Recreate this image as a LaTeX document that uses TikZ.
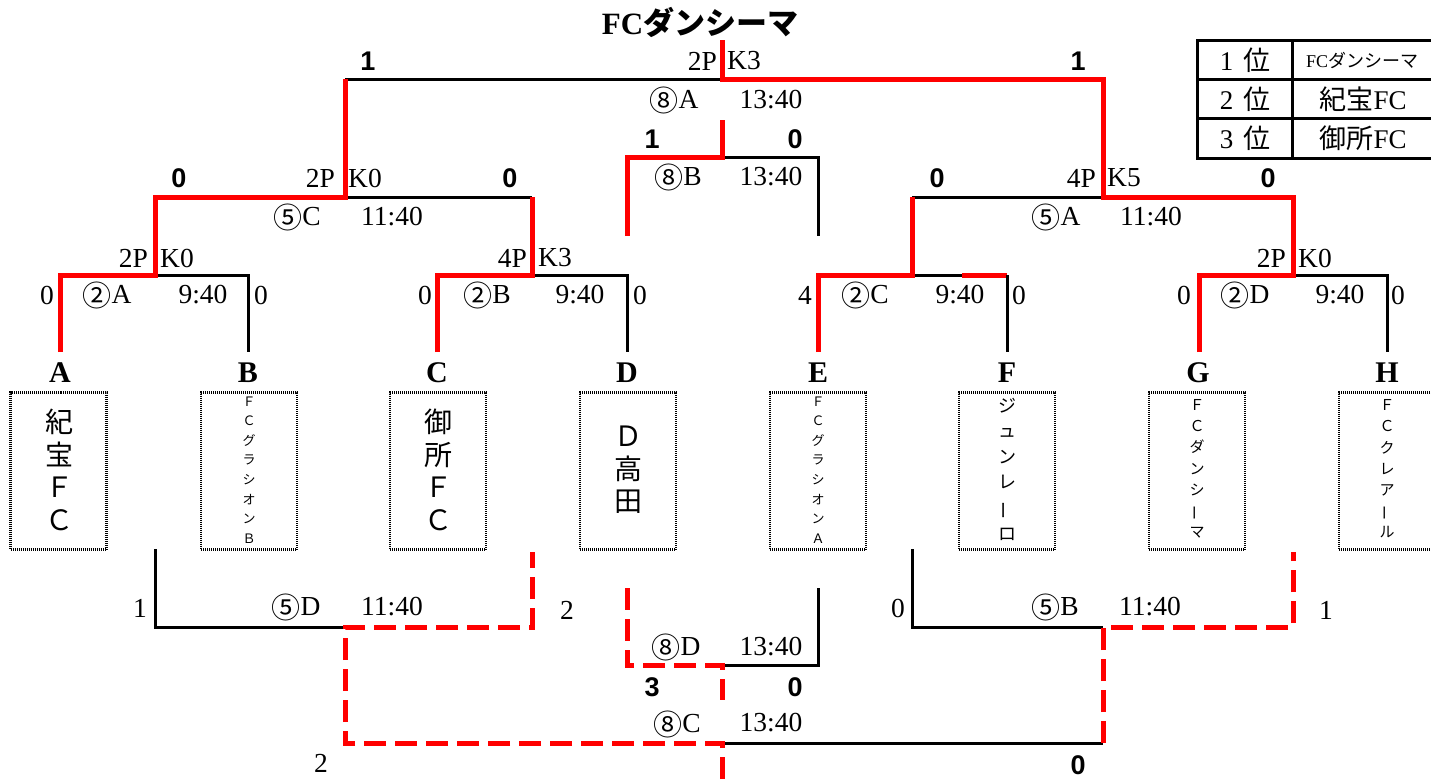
\documentclass[tikz,border=0pt]{standalone}
\usepackage{fontspec}
\usepackage{graphicx}
\setmainfont{Liberation Serif}
\newfontfamily\jp{Noto Sans CJK JP}
\newfontfamily\numsans{Liberation Sans}
\newcommand\circnum[1]{\raisebox{-3pt}{\jp\fontsize{29}{29}\selectfont #1}}
\newcommand\tatebar{\rotatebox[origin=c]{90}{ー}}
\begin{document}
\begin{tikzpicture}[x=1pt,y=-1pt,
  win/.style={draw=red, line width=5pt},
  lose/.style={draw=black, line width=3pt},
  windash/.style={draw=red, line width=5pt, dash pattern=on 22pt off 9pt},
  lbl/.style={inner sep=0pt, font=\fontsize{27.5}{28}\selectfont},
  score/.style={inner sep=0pt, font=\numsans\bfseries\fontsize{27}{28}\selectfont},
  letter/.style={inner sep=0pt, font=\bfseries\fontsize{30}{30}\selectfont},
  teambox/.style={draw, line width=2.5pt, dash pattern=on 1pt off 1pt, minimum width=96pt, minimum height=157pt, inner sep=0pt},
  bigv/.style={inner sep=0pt, align=center, font=\jp\fontsize{28}{32.5}\selectfont},
  smallv/.style={inner sep=0pt, align=center, font=\jp\fontsize{13}{19.6}\selectfont},
  midv/.style={inner sep=0pt, align=center, font=\jp\fontsize{15}{21.2}\selectfont},
  junv/.style={inner sep=0pt, align=center, font=\jp\fontsize{18}{25.6}\selectfont},
  tbl/.style={inner sep=0pt, font=\fontsize{27}{28}\selectfont}
]
\useasboundingbox (0,0) rectangle (1431,779);

% ---------- coordinates ----------
\coordinate (pA) at (60,352);   \coordinate (qA) at (60,275);
\coordinate (pB) at (248,352);  \coordinate (qB) at (248,275);
\coordinate (pC) at (437,352);  \coordinate (qC) at (437,275);
\coordinate (pD) at (627,352);  \coordinate (qD) at (627,275);
\coordinate (pE) at (818,352);  \coordinate (qE) at (818,275);
\coordinate (pF) at (1007,352); \coordinate (qF) at (1007,275);
\coordinate (pG) at (1199,352); \coordinate (qG) at (1199,275);
\coordinate (pH) at (1387,352); \coordinate (qH) at (1387,275);
\coordinate (m1) at (155,275);  \coordinate (s1) at (155,197);
\coordinate (m2) at (532,275);  \coordinate (s2) at (532,197);
\coordinate (m3) at (912,275);  \coordinate (s3) at (912,197);
\coordinate (m4) at (1293,275); \coordinate (s4) at (1293,197);
\coordinate (fsplit) at (962,275);
\coordinate (sm1) at (345,197); \coordinate (sm2) at (1103,197);
\coordinate (f1) at (345,79);   \coordinate (f2) at (1103,79);
\coordinate (fm) at (722,79);   \coordinate (champ) at (722,40);
\coordinate (b1) at (627,236);  \coordinate (b2) at (627,157);
\coordinate (bm) at (722,157);  \coordinate (bw) at (722,120);
\coordinate (b3) at (818,157);  \coordinate (b4) at (818,236);
\coordinate (c1) at (155,549);  \coordinate (c2) at (155,627);
\coordinate (cm1) at (345,627); \coordinate (c3) at (532,627);
\coordinate (c4) at (532,552);
\coordinate (d1) at (912,549);  \coordinate (d2) at (912,627);
\coordinate (cm2) at (1103,627);\coordinate (d3) at (1293,627);
\coordinate (d4) at (1293,552);
\coordinate (e1) at (345,743);  \coordinate (e2) at (1103,743);
\coordinate (em) at (722,743);  \coordinate (ew) at (722,779);
\coordinate (g1) at (627,588);  \coordinate (g2) at (627,665);
\coordinate (gm) at (722,665);  \coordinate (gw) at (722,700);
\coordinate (g3) at (818,665);  \coordinate (g4) at (818,588);

% ---------- bracket lines ----------
\draw[lose] (m1) -- (qB) -- (pB);
\draw[lose] (m2) -- (qD) -- (pD);
\draw[lose] (m3) -- (fsplit);
\draw[win]  (fsplit) -- (qF);
\draw[lose] (qF) -- (pF);
\draw[lose] (m4) -- (qH) -- (pH);
\draw[lose] (sm1) -- (s2);
\draw[lose] (s3) -- (sm2);
\draw[lose] (f1) -- (fm);
\draw[win] (pA) -- (qA) -- (m1) -- (s1) -- (sm1) -- (f1);
\draw[win] (pC) -- (qC) -- (m2) -- (s2);
\draw[win] (pE) -- (qE) -- (m3) -- (s3);
\draw[win] (pG) -- (qG) -- (m4) -- (s4) -- (sm2) -- (f2) -- (fm) -- (champ);
% 3rd place
\draw[lose] (bm) -- (b3) -- (b4);
\draw[win] (b1) -- (b2) -- (bm) -- (bw);
% lower bracket
\draw[lose] (c1) -- (c2) -- (cm1);
\draw[lose] (d1) -- (d2) -- (cm2);
\draw[lose] (em) -- (e2);
\draw[windash] (ew) -- (em) -- (e1) -- (cm1) -- (c3) -- (c4);
\draw[windash] (e2) -- (cm2) -- (d3) -- (d4);
\draw[lose] (gm) -- (g3) -- (g4);
\draw[windash] (g1) -- (g2) -- (gm) -- (gw);

% ---------- title ----------
\node[inner sep=0pt, font=\bfseries\fontsize{31}{31}\selectfont] (title) at (700,22) {FC{\jp ダンシーマ}};

% ---------- final labels ----------
\node[score] (fs1) at (368,61) {1};
\node[score] (fs2) at (1078,61) {1};
\node[lbl, anchor=east] (fp) at (717,61) {2P};
\node[lbl, anchor=west] (fk) at (727,61) {K3};
\node[lbl] (fname) at (674,100) {\circnum{⑧}A};
\node[lbl] (ftime) at (771,100) {13:40};
% 8B
\node[score] (bs1) at (652,139) {1};
\node[score] (bs2) at (795,139) {0};
\node[lbl] (bname) at (678,177) {\circnum{⑧}B};
\node[lbl] (btime) at (771,177) {13:40};
% 5C
\node[score] (cs1) at (179,178) {0};
\node[score] (cs2) at (510,178) {0};
\node[lbl, anchor=east] (cp) at (335,178) {2P};
\node[lbl, anchor=west] (ck) at (348,178) {K0};
\node[lbl] (cname) at (297,217) {\circnum{⑤}C};
\node[lbl] (ctime) at (392,217) {11:40};
% 5A
\node[score] (as1) at (937,178) {0};
\node[score] (as2) at (1268,178) {0};
\node[lbl, anchor=east] (ap) at (1096,178) {4P};
\node[lbl, anchor=west] (ak) at (1107,178) {K5};
\node[lbl] (aname) at (1056,217) {\circnum{⑤}A};
\node[lbl] (atime) at (1151,217) {11:40};
% 2A
\node[lbl, anchor=east] (r1p) at (148,258) {2P};
\node[lbl, anchor=west] (r1k) at (160,258) {K0};
\node[lbl] (r1s1) at (47,295) {0};
\node[lbl] (r1n) at (107,295) {\circnum{②}A};
\node[lbl] (r1t) at (203,295) {9:40};
\node[lbl] (r1s2) at (261,295) {0};
% 2B
\node[lbl, anchor=east] (r2p) at (527,258) {4P};
\node[lbl, anchor=west] (r2k) at (538,258) {K3};
\node[lbl] (r2s1) at (425,295) {0};
\node[lbl] (r2n) at (487,295) {\circnum{②}B};
\node[lbl] (r2t) at (580,295) {9:40};
\node[lbl] (r2s2) at (640,295) {0};
% 2C
\node[lbl] (r3s1) at (805,295) {4};
\node[lbl] (r3n) at (865,295) {\circnum{②}C};
\node[lbl] (r3t) at (960,295) {9:40};
\node[lbl] (r3s2) at (1019,295) {0};
% 2D
\node[lbl, anchor=east] (r4p) at (1286,258) {2P};
\node[lbl, anchor=west] (r4k) at (1298,258) {K0};
\node[lbl] (r4s1) at (1184,295) {0};
\node[lbl] (r4n) at (1245,295) {\circnum{②}D};
\node[lbl] (r4t) at (1340,295) {9:40};
\node[lbl] (r4s2) at (1398,295) {0};
% 5D, 5B
\node[lbl] (dls1) at (140,608) {1};
\node[lbl] (dln) at (296,607) {\circnum{⑤}D};
\node[lbl] (dlt) at (392,607) {11:40};
\node[lbl] (dls2) at (567,610) {2};
\node[lbl] (brs1) at (898,608) {0};
\node[lbl] (brn) at (1055,607) {\circnum{⑤}B};
\node[lbl] (brt) at (1150,607) {11:40};
\node[lbl] (brs2) at (1326,610) {1};
% 8D
\node[lbl] (gn) at (676,647) {\circnum{⑧}D};
\node[lbl] (gt) at (771,647) {13:40};
\node[score] (gs1) at (652,687) {3};
\node[score] (gs2) at (795,687) {0};
% 8C
\node[lbl] (en) at (677,724) {\circnum{⑧}C};
\node[lbl] (et) at (771,723) {13:40};
\node[lbl] (es1) at (321,763) {2};
\node[score] (es2) at (1078,765) {0};

% ---------- team letters ----------
\node[letter] (LA) at (60,373) {A};
\node[letter] (LB) at (248,373) {B};
\node[letter] (LC) at (437,373) {C};
\node[letter] (LD) at (627,373) {D};
\node[letter] (LE) at (818,373) {E};
\node[letter] (LF) at (1007,373) {F};
\node[letter] (LG) at (1198,373) {G};
\node[letter] (LH) at (1387,373) {H};

% ---------- team boxes ----------
\node[teambox] (BA) at (58.5,471) {};
\node[teambox] (BB) at (249,471) {};
\node[teambox] (BC) at (438,471) {};
\node[teambox] (BD) at (628,471) {};
\node[teambox] (BE) at (818,471) {};
\node[teambox] (BF) at (1007,471) {};
\node[teambox] (BG) at (1197,471) {};
\node[teambox] (BH) at (1387,471) {};

\node[bigv] (TA) at (59,470) {紀\\宝\\Ｆ\\Ｃ};
\node[smallv] (TB) at (249,470) {Ｆ\\Ｃ\\グ\\ラ\\シ\\オ\\ン\\Ｂ};
\node[bigv] (TC) at (438,470) {御\\所\\Ｆ\\Ｃ};
\node[bigv] (TD) at (628,470) {Ｄ\\高\\田};
\node[smallv] (TE) at (818,470) {Ｆ\\Ｃ\\グ\\ラ\\シ\\オ\\ン\\Ａ};
\node[junv] (TF) at (1007,469) {ジ\\ュ\\ン\\レ\\\tatebar\\ロ};
\node[midv] (TG) at (1197,469) {Ｆ\\Ｃ\\ダ\\ン\\シ\\\tatebar\\マ};
\node[midv] (TH) at (1387,469) {Ｆ\\Ｃ\\ク\\レ\\ア\\\tatebar\\ル};

% ---------- ranking table ----------
\draw[line width=3pt] (1197,40) rectangle (1434,158);
\draw[line width=3pt] (1292,40) -- (1292,158);
\draw[line width=3pt] (1197,79) -- (1434,79);
\draw[line width=3pt] (1197,118) -- (1434,118);
\node[tbl] (k1) at (1245,60) {1\hspace{10pt}{\jp 位}};
\node[tbl] (k2) at (1245,99) {2\hspace{10pt}{\jp 位}};
\node[tbl] (k3) at (1245,138) {3\hspace{10pt}{\jp 位}};
\node[inner sep=0pt, font=\fontsize{18}{18}\selectfont] (v1) at (1362,60) {FC{\jp ダンシーマ}};
\node[tbl] (v2) at (1363,99) {{\jp 紀宝}FC};
\node[tbl] (v3) at (1363,138) {{\jp 御所}FC};
\end{tikzpicture}
\end{document}
